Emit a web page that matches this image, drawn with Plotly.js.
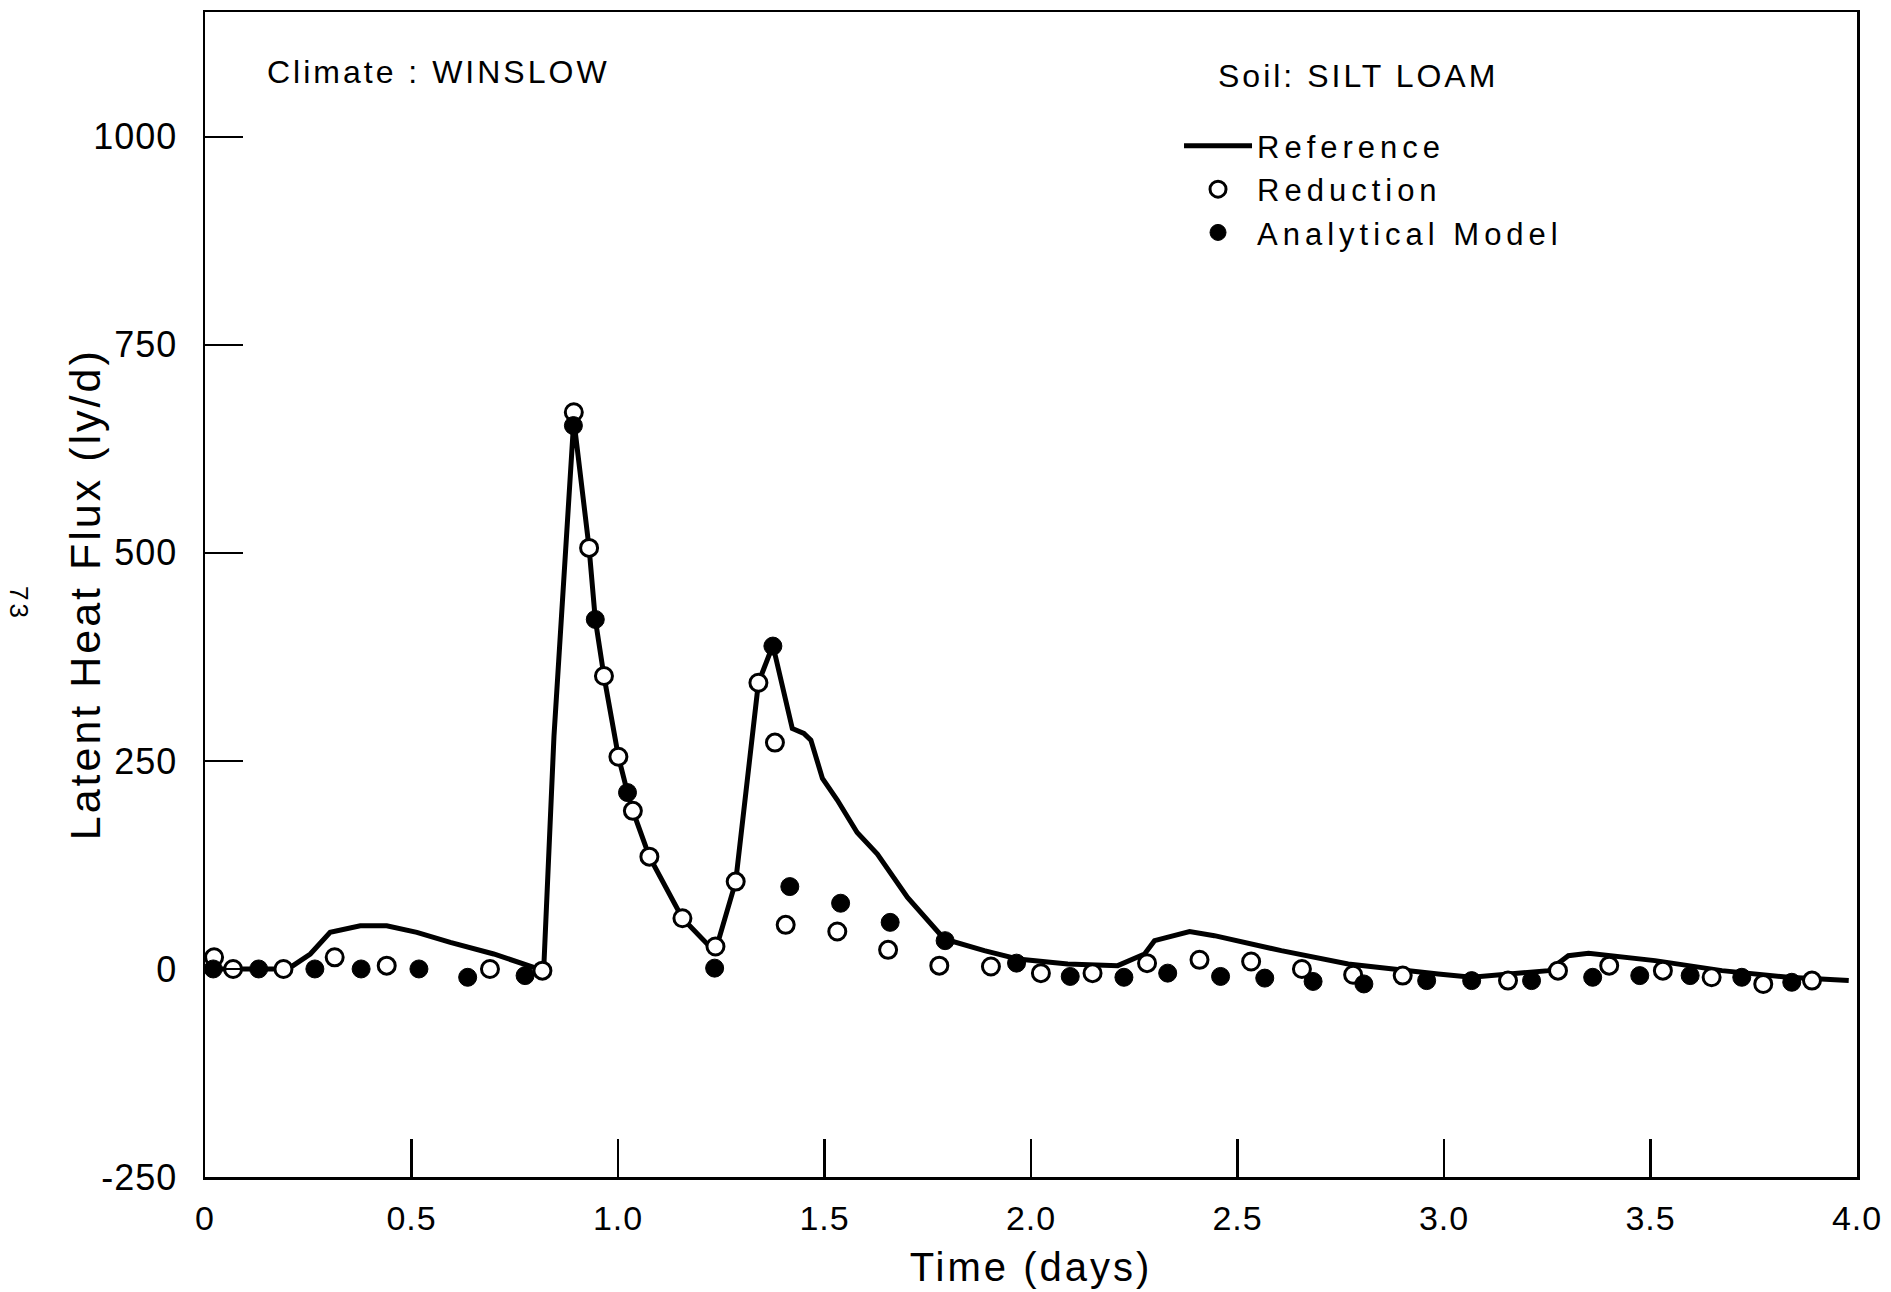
<!DOCTYPE html>
<html><head><meta charset="utf-8">
<script src="https://cdn.plot.ly/plotly-3.0.1.min.js"></script>
<style>
html,body{margin:0;padding:0;background:#fff;}
#chart{width:1891px;height:1292px;}
.annotation-text{letter-spacing:3px;}
.legendtext{letter-spacing:5px;}
.xtitle{letter-spacing:3px;}
.xtick text,.ytick text{letter-spacing:1px;}
</style></head><body><div id="chart"></div><script>
// Reference (solid line)
const refX = [0,0.1,0.19,0.213,0.255,0.303,0.376,0.44,0.513,0.594,0.699,0.796,0.82,0.845,0.865,0.893,0.93,0.945,0.966,1.001,1.023,1.036,1.076,1.156,1.216,1.236,1.285,1.34,1.375,1.422,1.45,1.467,1.495,1.531,1.579,1.628,1.701,1.79,1.887,1.968,2.089,2.21,2.275,2.299,2.384,2.444,2.606,2.768,2.986,3.067,3.253,3.301,3.35,3.511,3.673,3.834,3.98];
const refY = [0,0,0,4,18,44,52,52,44,32,18,2,-2,280,440,660,506,420,352,255,212,190,135,61,30,22,105,344,389,289,283,275,229,203,164,138,86,36,22,12,6,4,18,34,45,40,22,6,-6,-10,-2,16,19,10,-2,-10,-14];
// Reduction (open circles)
const redX = [0.022,0.068,0.19,0.314,0.44,0.69,0.817,0.893,0.93,0.966,1.001,1.036,1.076,1.156,1.236,1.285,1.34,1.38,1.406,1.531,1.654,1.778,1.903,2.024,2.149,2.281,2.408,2.533,2.656,2.78,2.9,3.155,3.276,3.4,3.53,3.648,3.773,3.891];
const redY = [14,0,0,14,4,0,-2,669,506,352,255,190,135,61,27,105,344,272,53,45,23,4,3,-5,-5,7,11,9,0,-7,-8,-14,-2,4,-2,-10,-18,-14];
// Analytical Model (filled circles)
const anaX = [0.02,0.13,0.266,0.378,0.518,0.636,0.775,0.892,0.945,1.023,1.234,1.375,1.416,1.539,1.659,1.792,1.965,2.095,2.225,2.331,2.459,2.566,2.683,2.806,2.958,3.067,3.212,3.36,3.474,3.596,3.721,3.842];
const anaY = [0,0,0,0,0,-10,-8,653,420,212,1,388,99,79,56,34,7,-9,-10,-5,-9,-11,-15,-18,-14,-14,-14,-10,-8,-8,-10,-16];
const xTickVals = [0,0.5,1,1.5,2,2.5,3,3.5,4];
const xTickText = ['0','0.5','1.0','1.5','2.0','2.5','3.0','3.5','4.0'];
const yTickVals = [-250,0,250,500,750,1000];
const yTickText = ['-250','0','250','500','750','1000'];
const yTitle = 'Latent Heat Flux (ly/d)';

const FONT = 'Liberation Sans, Arial, sans-serif';
const traces = [
  {x: refX, y: refY, type: 'scatter', mode: 'lines', name: 'Reference', legendrank: 1,
   line: {color: '#000', width: 5}},
  {x: redX, y: redY, type: 'scatter', mode: 'markers', name: 'Reduction', legendrank: 2,
   marker: {symbol: 'circle', size: 17, color: '#fff', line: {color: '#000', width: 3}}},
  {x: anaX, y: anaY, type: 'scatter', mode: 'markers', name: 'Analytical Model', legendrank: 3,
   marker: {symbol: 'circle', size: 18, color: '#000', line: {color: '#000', width: 1}}}
];
const layout = {
  width: 1891, height: 1292,
  paper_bgcolor: '#fff', plot_bgcolor: '#fff',
  margin: {l: 205, r: 34, t: 12, b: 115},
  font: {family: FONT, color: '#000'},
  showlegend: true,
  legend: {x: 0.5896, y: 0.908, xanchor: 'left', yanchor: 'top', bgcolor: 'rgba(0,0,0,0)',
    font: {size: 31, family: FONT}, itemwidth: 68, tracegroupgap: 0},
  xaxis: {range: [0, 4], tickmode: 'array', tickvals: xTickVals, ticktext: xTickText,
    ticks: 'inside', ticklen: 38, tickwidth: 2.5, tickcolor: '#000',
    showline: true, linecolor: '#000', linewidth: 2.5, mirror: true,
    showgrid: false, zeroline: false, tickfont: {size: 34, family: FONT}, ticklabelstandoff: 10,
    title: {text: 'Time (days)', font: {size: 40, family: FONT}, standoff: 17}},
  yaxis: {range: [-250, 1150], tickmode: 'array', tickvals: yTickVals, ticktext: yTickText,
    ticks: 'inside', ticklen: 38, tickwidth: 2.5, tickcolor: '#000',
    showline: true, linecolor: '#000', linewidth: 2.5, mirror: true,
    showgrid: false, zeroline: false, tickfont: {size: 36, family: FONT}, ticklabelstandoff: 18},
  annotations: [
    {text: yTitle, xref: 'paper', yref: 'paper', x: -0.0725, y: 0.5004, textangle: -90,
     xanchor: 'center', yanchor: 'middle', showarrow: false, font: {size: 43, family: FONT}},
    {text: 'Climate : WINSLOW', xref: 'paper', yref: 'paper', x: 0.0363, y: 0.9485,
     xanchor: 'left', yanchor: 'middle', showarrow: false, font: {size: 32, family: FONT}},
    {text: 'Soil: SILT LOAM', xref: 'paper', yref: 'paper', x: 0.612, y: 0.945,
     xanchor: 'left', yanchor: 'middle', showarrow: false, font: {size: 32, family: FONT}},
    {text: '73', xref: 'paper', yref: 'paper', x: -0.1126, y: 0.4918, textangle: 90,
     xanchor: 'center', yanchor: 'middle', showarrow: false, font: {size: 26, family: FONT}}
  ]
};
Plotly.newPlot('chart', traces, layout, {displayModeBar: false, staticPlot: true});
</script></body></html>
